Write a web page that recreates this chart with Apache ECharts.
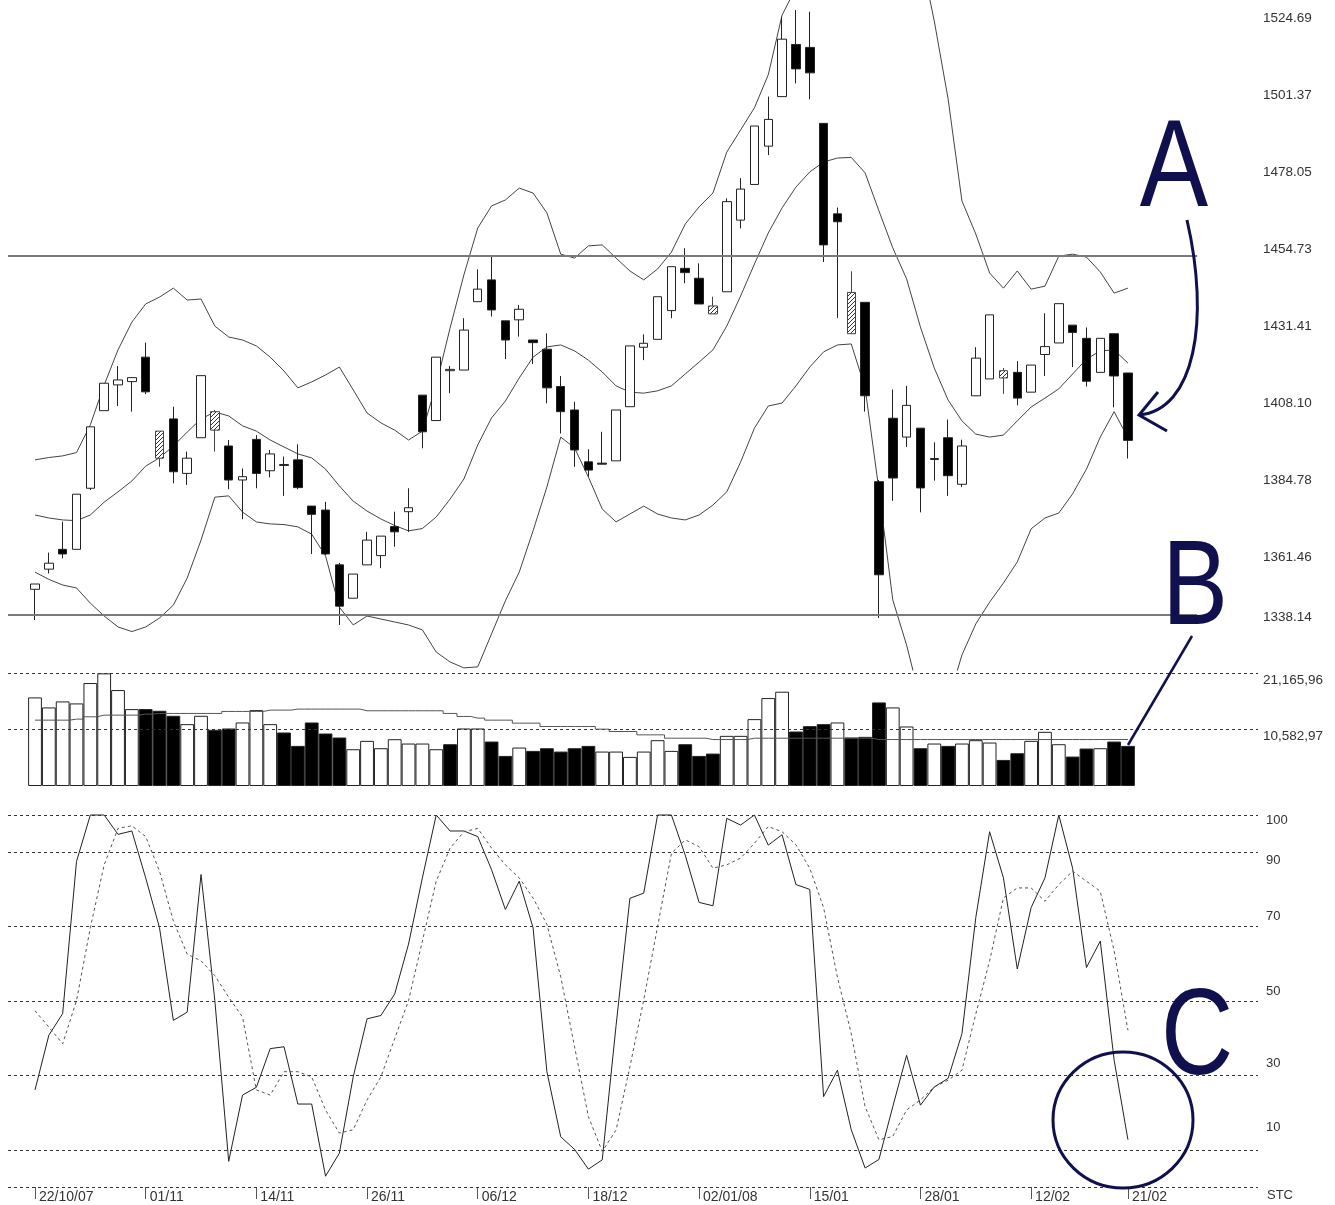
<!DOCTYPE html>
<html>
<head>
<meta charset="utf-8">
<script src="https://cdn.jsdelivr.net/npm/echarts@6/dist/echarts.min.js"></script>
<style>
html,body{margin:0;padding:0;background:#fff;}
#c{width:1335px;height:1205px;}
</style>
</head>
<body>
<div id="c"></div>
<script>
// ---------------- DATA ----------------
const dateIndex = [0, 8, 16, 24, 32, 40, 48, 56, 64, 72, 79];
const dateLabels = ['22/10/07', '01/11', '14/11', '26/11', '06/12', '18/12', '02/01/08', '15/01', '28/01', '12/02', '21/02'];

const priceTicks = [1524.69, 1501.37, 1478.05, 1454.73, 1431.41, 1408.10, 1384.78, 1361.46, 1338.14];
const resistanceLevel = 1454.73;
const supportLevel = 1346.0;

// [open, close, low, high]
const candles = [
  [1353.8,1355.4,1344.5,1355.4],[1359.9,1361.7,1358.6,1364.9],[1365.9,1364.5,1363.2,1374.3],[1365.9,1382.6,1365.9,1382.6],
  [1384.4,1403.0,1383.9,1403.0],[1407.9,1416.2,1407.9,1416.2],[1415.7,1417.2,1409.3,1421.4],[1416.7,1417.9,1407.6,1417.9],
  [1424.1,1413.6,1412.9,1428.5],[1393.5,1401.7,1390.9,1401.7],[1405.4,1389.4,1385.9,1409.1],[1388.9,1393.5,1385.4,1395.5],
  [1399.7,1418.5,1399.7,1418.5],[1402.0,1407.6,1395.5,1408.1],[1397.2,1386.9,1384.1,1399.0],[1386.9,1387.9,1375.0,1390.4],
  [1399.2,1388.9,1384.4,1400.5],[1389.7,1394.8,1387.7,1396.0],[1391.3,1391.6,1382.1,1394.0],[1393.0,1384.6,1384.1,1397.7],
  [1379.0,1376.5,1364.5,1379.0],[1377.8,1364.5,1364.2,1380.3],[1361.2,1348.7,1343.0,1361.8],[1351.1,1358.4,1351.1,1358.4],
  [1361.2,1368.7,1361.2,1371.2],[1364.0,1369.9,1360.2,1369.9],[1372.8,1371.2,1366.7,1377.3],[1377.3,1378.5,1371.2,1384.4],
  [1412.6,1401.5,1396.5,1412.6],[1404.9,1424.1,1404.9,1424.1],[1420.0,1420.4,1413.2,1421.4],[1420.2,1432.3,1420.2,1435.9],
  [1440.9,1444.7,1440.9,1450.7],[1447.5,1438.4,1436.4,1454.5],[1435.1,1429.3,1423.5,1435.1],[1435.4,1438.6,1430.3,1439.9],
  [1429.3,1428.5,1422.0,1429.3],[1426.5,1414.8,1410.1,1431.3],[1415.2,1407.6,1401.0,1418.4],[1408.1,1396.0,1390.9,1410.6],
  [1392.4,1389.9,1387.9,1396.2],[1392.0,1391.7,1391.7,1401.5],[1392.7,1408.1,1392.7,1408.1],[1409.1,1427.5,1409.1,1427.5],
  [1427.1,1428.3,1423.2,1431.0],[1429.5,1442.4,1429.5,1442.4],[1438.2,1451.5,1435.9,1451.5],[1451.0,1449.7,1446.5,1457.1],
  [1448.0,1440.2,1440.2,1452.5],[1437.2,1439.6,1437.2,1442.4],[1443.9,1471.2,1443.9,1472.2],[1465.6,1475.0,1463.1,1478.3],
  [1476.4,1494.1,1476.4,1494.1],[1488.0,1496.1,1485.3,1503.0],[1503.0,1520.4,1503.0,1527.2],[1518.8,1511.4,1507.0,1529.2],
  [1517.9,1510.2,1502.2,1528.7],[1494.9,1458.1,1452.9,1494.9],[1467.5,1465.1,1436.0,1469.4],[1431.2,1443.7,1431.2,1450.1],
  [1440.7,1412.4,1407.6,1440.7],[1386.4,1358.2,1345.1,1386.9],[1405.6,1387.5,1380.6,1414.3],[1399.9,1409.5,1396.9,1415.4],
  [1402.6,1384.5,1377.1,1402.6],[1393.1,1393.4,1386.7,1398.3],[1399.7,1388.2,1382.1,1405.2],[1385.6,1397.2,1384.8,1399.1],
  [1412.4,1423.8,1412.4,1427.1],[1417.5,1436.9,1417.5,1436.9],[1417.8,1420.0,1413.0,1420.8],[1419.5,1411.7,1409.5,1422.9],
  [1413.5,1421.7,1413.5,1421.7],[1424.9,1427.3,1418.4,1437.4],[1428.4,1440.3,1428.4,1440.3],[1433.8,1431.6,1421.1,1433.8],
  [1429.8,1416.8,1415.2,1433.1],[1419.5,1429.8,1419.5,1429.8],[1431.2,1418.4,1408.9,1431.2],[1419.3,1398.9,1393.4,1419.3]
];
const hatchedCandles = [9, 13, 49, 59, 70];

const upperBand = [
  1393.0,1393.7,1394.2,1395.2,1403.6,1415.7,1426.3,1434.7,1440.2,1442.3,
  1445.0,1441.4,1441.7,1433.5,1430.2,1429.3,1427.5,1424.1,1419.9,1414.8,
  1416.6,1418.7,1421.1,1414.2,1407.2,1404.2,1402.0,1399.0,1401.7,1415.7,
  1432.9,1449.0,1463.2,1469.9,1471.7,1475.3,1473.8,1467.8,1455.3,1454.1,
  1457.8,1458.1,1454.1,1450.2,1447.5,1450.8,1455.9,1464.4,1469.6,1473.8,
  1486.2,1492.9,1499.6,1509.6,1527.7,1535.9,1539.2,1540.7,1541.0,1541.0,
  1545.0,1552.9,1563.8,1558.6,1546.2,1525.9,1502.3,1471.4,1461.4,1449.6,
  1445.0,1450.2,1444.7,1445.6,1454.7,1455.3,1454.4,1449.9,1443.5,1445.0
];
const middleBand = [
  1376.3,1375.4,1374.8,1374.6,1376.3,1380.2,1383.3,1386.6,1391.1,1393.6,
  1397.2,1401.4,1405.4,1407.5,1406.3,1403.3,1401.7,1399.0,1396.9,1394.8,
  1393.6,1390.2,1385.1,1380.5,1377.5,1375.1,1373.1,1371.5,1372.2,1375.7,
  1381.1,1387.2,1397.5,1405.7,1410.8,1417.8,1424.1,1427.2,1427.8,1426.0,
  1423.2,1419.6,1415.4,1413.5,1413.2,1413.9,1415.4,1419.0,1422.6,1426.3,
  1433.5,1442.6,1452.3,1461.7,1469.3,1475.6,1480.2,1483.2,1484.4,1484.6,
  1479.9,1468.4,1457.2,1447.8,1433.2,1420.8,1411.1,1404.8,1400.8,1399.9,
  1400.5,1404.8,1409.0,1411.7,1414.5,1419.0,1423.5,1426.0,1426.3,1422.3
];
const lowerBand = [
  1359.0,1356.8,1355.1,1354.2,1349.6,1345.7,1342.4,1341.0,1342.4,1345.1,
  1349.0,1357.2,1368.7,1381.7,1382.1,1377.2,1374.2,1373.6,1373.4,1372.7,
  1370.5,1363.9,1348.4,1343.0,1345.7,1344.8,1343.9,1343.0,1341.5,1334.8,
  1331.8,1330.0,1330.3,1340.3,1350.3,1359.0,1371.5,1384.8,1399.9,1396.6,
  1387.8,1378.1,1374.2,1376.6,1379.0,1376.6,1375.4,1374.8,1376.3,1379.3,
  1383.3,1392.3,1402.6,1409.3,1410.2,1415.4,1421.1,1425.7,1427.8,1428.1,
  1414.8,1383.9,1350.6,1336.9,1320.3,1315.7,1320.0,1333.9,1343.3,1349.9,
  1355.7,1362.1,1372.1,1375.4,1376.9,1382.7,1390.2,1399.9,1407.6,1399.6
];

const volume = [
  16594,14716,15843,15467,19287,21100,17972,14403,14403,14090,
  13150,11585,13150,10520,10771,11898,14215,11585,10019,7514,
  11898,9831,9080,6888,8454,7076,8767,7953,7953,6888,
  7828,10771,10771,8328,5636,7201,6575,7076,6450,7076,
  7514,6450,6450,5448,6450,8579,6575,7828,5636,6074,
  9393,9393,12524,16469,17659,10207,11209,11585,11898,9080,
  9205,15655,14716,11146,7076,7953,7514,7953,8579,8141,
  4884,6137,8454,10144,7828,5511,7013,7076,8328,7514
];
// 1 = down day (black bar), 0 = up day (white bar)
const volumeDown = [
  0,0,0,0,0,0,0,0,1,1,
  1,0,0,1,1,0,0,0,1,1,
  1,1,1,0,0,0,0,0,0,0,
  1,0,0,1,1,0,1,1,1,1,
  1,0,0,0,0,0,0,1,1,1,
  0,0,0,0,0,1,1,1,0,1,
  1,1,0,0,1,0,1,0,0,0,
  1,1,0,0,0,1,1,0,1,1
];
const volumeMA = [
  12336,12336,12336,12524,12962,13275,13275,13275,13463,13589,
  13589,13589,13589,13589,13964,13964,13964,14215,14215,14403,
  14403,14403,14403,14403,14090,14090,14090,14090,14090,14090,
  13589,13025,12712,12336,12336,11773,11773,11146,11146,11146,
  11146,10645,10207,10207,9581,9581,8955,8955,8955,8704,
  8704,8704,8955,8955,8955,8955,8955,8955,8955,8955,
  8955,8704,8704,8704,8704,8704,8704,8704,8704,8704,
  8704,8704,8704,8704,8704,8704,8704,8704,8704,8704
];
const volTicks = [21165.96, 10582.97];
const volTickLabels = ['21,165,96', '10,582,97'];

const stochK = [
  26.1,40.8,46.6,87.5,100,100,94.8,95.7,83.1,69.7,
  44.8,47,84,50.1,6.9,24.7,26.8,37.2,37.7,22.3,
  22.3,2.9,9.1,29.6,45.2,46.1,51.9,65.3,83.1,100,
  95.7,95.7,94.2,85.3,74.6,82.2,69.7,31,13.5,10.1,
  4.8,7.3,43.4,77.6,79,100,100,89.2,76.5,75.6,
  99.1,97.3,100,91.9,94.7,81.3,80,24.3,31.4,15.4,
  5.1,7.4,21.6,35.4,22,26.9,29.2,41.2,72.4,95.5,
  83.1,58.6,75.1,83.1,100,85.7,59,66.1,34.1,12.7
];
const stochD = [
  47.4,43,38.5,50.1,69.7,86.6,96.4,97.1,94.2,84.9,
  71.5,62.6,60.8,56.8,51,45.7,26.1,24.7,31,31,
  29.6,20.7,14.5,15.4,23.4,29.6,39.9,50.1,66.1,82.2,
  91.1,95.5,96.4,91.1,86.6,83.1,77.7,70.6,56.5,37.7,
  18.9,9.6,15.3,32.3,50.3,70,89.7,93.3,91.5,85.7,
  86.6,88.4,92.4,96.9,95.5,92,85.7,75.1,56.4,41.2,
  21.6,12.7,13.6,20.7,23.4,26.9,28.7,31.4,46.5,60.8,
  77.7,80.4,80.4,76.8,81.3,84.9,82.2,79.5,63.5,42.1
];
const stochLevels = [100, 90, 70, 50, 30, 10, 0];
const stochTicks = [100, 90, 70, 50, 30, 10];
const stochTickLabels = ['100', '90', '70', '50', '30', '10'];

// ---------------- STYLE ----------------
const navy = '#10104e';
const ink = '#222';
const labelColor = '#333';
const fontFam = '"Liberation Sans", Arial, sans-serif';
const stochLabelNudge = [5, 8, -10, -10, -12, -22];
const priceLabelNudge = [0, 0, 0, 0, 0, 0, 0, 0, -17];
const xMin = -1.9516, xMax = 88.399;

// hatch pattern
const pc = document.createElement('canvas');
pc.width = 4; pc.height = 4;
const pctx = pc.getContext('2d');
pctx.fillStyle = '#fff'; pctx.fillRect(0, 0, 4, 4);
pctx.strokeStyle = '#333'; pctx.lineWidth = 1;
pctx.beginPath(); pctx.moveTo(0, 4); pctx.lineTo(4, 0); pctx.stroke();
const hatch = { image: pc, repeat: 'repeat' };

const idx = candles.map((c, i) => i);
const pair = arr => arr.map((v, i) => [i, v]);

const mainCandles = idx.filter(i => hatchedCandles.indexOf(i) < 0).map(i => [i].concat(candles[i]));
const hatchCandles = hatchedCandles.map(i => [i].concat(candles[i]));

function nudgeRich(prefix, nudges, size) {
  const r = {};
  nudges.forEach((d, i) => {
    r[prefix + i] = {
      fontSize: size, color: labelColor, fontFamily: fontFam,
      padding: d >= 0 ? [2 * d, 0, 0, 0] : [0, 0, -2 * d, 0]
    };
  });
  return r;
}
const stochRich = nudgeRich('s', stochLabelNudge, 13);
const priceRich = {};
priceLabelNudge.forEach((d, i) => {
  priceRich['p' + i] = { fontSize: 13.5, color: labelColor, fontFamily: fontFam, padding: [0, 0, -d, 0] };
});

function hiddenX(grid) {
  return {
    type: 'value', gridIndex: grid, min: xMin, max: xMax,
    axisLine: { show: false }, axisTick: { show: false },
    axisLabel: { show: false }, splitLine: { show: false }
  };
}

const letterFont = '125px "Liberation Sans Narrow", "Liberation Sans", sans-serif';
function letter(ch, x, y, size) {
  return {
    type: 'text', z: 100, x: x, y: y, scaleX: 0.82,
    style: { text: ch, x: 0, y: 0, textAlign: 'center', textVerticalAlign: 'middle', fill: navy,
      font: size + 'px "Liberation Sans", sans-serif' }
  };
}

const option = {
  animation: false,
  backgroundColor: '#fff',
  textStyle: { fontFamily: fontFam },
  grid: [
    { left: 8, width: 1250, top: 0, height: 670 },
    { left: 8, width: 1250, top: 673, height: 113 },
    { left: 8, width: 1250, top: 815, height: 372 }
  ],
  xAxis: [
    hiddenX(0),
    hiddenX(1),
    {
      type: 'value', gridIndex: 2, min: xMin, max: xMax,
      axisLine: { show: false },
      axisTick: { show: true, customValues: dateIndex, length: 12, inside: false, lineStyle: { color: '#555', width: 1 } },
      axisLabel: {
        show: true, customValues: dateIndex, align: 'left', margin: 3,
        padding: [0, 0, 0, 4], fontSize: 14, color: labelColor,
        formatter: v => dateLabels[dateIndex.indexOf(v)]
      },
      splitLine: { show: false },
      name: 'STC', nameLocation: 'end', nameGap: 9,
      nameTextStyle: { fontSize: 13, color: labelColor, verticalAlign: 'top', align: 'left', padding: [2, 0, 0, 0] }
    }
  ],
  yAxis: [
    {
      type: 'value', gridIndex: 0, position: 'right', min: 1329.36, max: 1532.26,
      axisLine: { show: false }, axisTick: { show: false }, splitLine: { show: false },
      axisLabel: {
        customValues: priceTicks, margin: 5, verticalAlign: 'bottom', rich: priceRich,
        formatter: v => { const k = priceTicks.indexOf(v); return '{p' + k + '|' + v.toFixed(2) + '}'; }
      }
    },
    {
      type: 'value', gridIndex: 1, position: 'right', min: 0, max: 21165.96,
      axisLine: { show: false }, axisTick: { show: false }, splitLine: { show: false },
      axisLabel: {
        customValues: volTicks, margin: 5, fontSize: 13.5, color: labelColor,
        verticalAlign: 'top', formatter: v => volTickLabels[volTicks.indexOf(v)]
      }
    },
    {
      type: 'value', gridIndex: 2, position: 'right', min: 0, max: 100,
      axisLine: { show: false }, axisTick: { show: false }, splitLine: { show: false },
      axisLabel: {
        customValues: stochTicks, margin: 8, rich: stochRich,
        formatter: v => { const k = stochTicks.indexOf(v); return '{s' + k + '|' + stochTickLabels[k] + '}'; }
      }
    }
  ],
  series: [
    {
      type: 'line', name: 'upper', xAxisIndex: 0, yAxisIndex: 0, data: pair(upperBand),
      showSymbol: false, lineStyle: { color: '#444', width: 1 }, z: 3,
      markLine: {
        silent: true, symbol: 'none', label: { show: false },
        lineStyle: { color: '#7a7a7a', width: 2, type: 'solid' },
        data: [
          [{ coord: [xMin, resistanceLevel] }, { coord: [84.0, resistanceLevel] }],
          [{ coord: [xMin, supportLevel] }, { coord: [84.0, supportLevel] }]
        ]
      }
    },
    { type: 'line', name: 'middle', xAxisIndex: 0, yAxisIndex: 0, data: pair(middleBand), showSymbol: false, lineStyle: { color: '#444', width: 1 }, z: 3 },
    { type: 'line', name: 'lower', xAxisIndex: 0, yAxisIndex: 0, data: pair(lowerBand), showSymbol: false, lineStyle: { color: '#444', width: 1 }, z: 3 },
    {
      type: 'candlestick', name: 'price', xAxisIndex: 0, yAxisIndex: 0,
      data: mainCandles, encode: { x: 0, y: [1, 2, 3, 4] }, barWidth: 9, z: 4,
      itemStyle: { color: '#fff', color0: '#000', borderColor: ink, borderColor0: ink, borderWidth: 1 }
    },
    {
      type: 'candlestick', name: 'hatched', xAxisIndex: 0, yAxisIndex: 0,
      data: hatchCandles, encode: { x: 0, y: [1, 2, 3, 4] }, barWidth: 9, z: 4,
      itemStyle: { color: hatch, color0: hatch, borderColor: '#444', borderColor0: '#444', borderWidth: 1 }
    },
    {
      type: 'bar', name: 'volume', xAxisIndex: 1, yAxisIndex: 1, barWidth: 13.8,
      data: volume.map((v, i) => ({ value: [i, v], itemStyle: { color: volumeDown[i] ? '#000' : '#fff' } })),
      itemStyle: { borderColor: ink, borderWidth: 1 },
      markLine: {
        silent: true, symbol: 'none', label: { show: false },
        lineStyle: { color: '#333', width: 1, type: [3, 3] },
        data: volTicks.map(v => ({ yAxis: v }))
      }
    },
    {
      type: 'line', name: 'volMA', xAxisIndex: 1, yAxisIndex: 1, data: pair(volumeMA), step: 'middle',
      showSymbol: false, lineStyle: { color: '#555', width: 1 }, z: 5
    },
    {
      type: 'line', name: '%K', xAxisIndex: 2, yAxisIndex: 2, data: pair(stochK), clip: false,
      showSymbol: false, lineStyle: { color: '#222', width: 1 },
      markLine: {
        silent: true, symbol: 'none', label: { show: false },
        lineStyle: { color: '#333', width: 1, type: [3, 3] },
        data: stochLevels.map(v => ({ yAxis: v }))
      }
    },
    {
      type: 'line', name: '%D', xAxisIndex: 2, yAxisIndex: 2, data: pair(stochD), clip: false,
      showSymbol: false, lineStyle: { color: '#555', width: 1, type: [3, 3] }
    }
  ],
  graphic: [
    letter('A', 1174, 172, 125),
    letter('B', 1195, 591, 120),
    letter('C', 1197, 1040, 122),
    { type: 'bezierCurve', z: 100, shape: { x1: 1187, y1: 220, cpx1: 1210, cpy1: 320, cpx2: 1195, cpy2: 410, x2: 1139, y2: 415 }, style: { stroke: navy, lineWidth: 3, fill: null } },
    { type: 'polyline', z: 100, shape: { points: [[1158, 392], [1139, 415], [1167, 431]] }, style: { stroke: navy, lineWidth: 3, fill: null } },
    { type: 'line', z: 100, shape: { x1: 1192, y1: 636, x2: 1128, y2: 745 }, style: { stroke: navy, lineWidth: 2.5 } },
    { type: 'ellipse', z: 100, shape: { cx: 1123, cy: 1120, rx: 70, ry: 68 }, style: { stroke: navy, lineWidth: 3, fill: null } }
  ]
};

const chart = echarts.init(document.getElementById('c'));
chart.setOption(option);
</script>
</body>
</html>
